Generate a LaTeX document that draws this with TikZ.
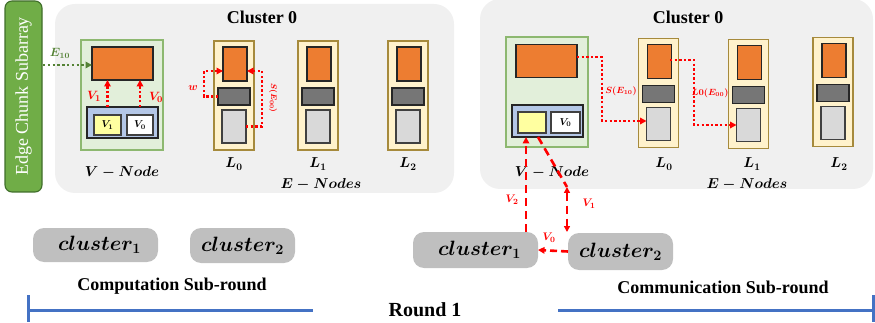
\documentclass[tikz,border=0pt]{standalone}
\usepackage{fontspec}
\setmainfont{Liberation Serif}
\usetikzlibrary{arrows.meta,calc}
\definecolor{panel}{HTML}{F0F0F0}
\definecolor{chunk}{HTML}{70AD47}
\definecolor{chunkb}{HTML}{3F6E2A}
\definecolor{vgreen}{HTML}{E2EFDA}
\definecolor{vgreenb}{HTML}{8DB870}
\definecolor{orng}{HTML}{ED7D31}
\definecolor{bluebox}{HTML}{B4C7E7}
\definecolor{yel}{HTML}{FFFFA0}
\definecolor{lfill}{HTML}{FFF2CC}
\definecolor{lborder}{HTML}{A68A3C}
\definecolor{dgray}{HTML}{767676}
\definecolor{lgray}{HTML}{D9D9D9}
\definecolor{pillc}{HTML}{BFBFBF}
\definecolor{barblue}{HTML}{4472C4}
\definecolor{agreen}{HTML}{548235}
\definecolor{rd}{HTML}{FF0000}
\newcommand\drawEnode[3]{%
  \node[lbox] (#1) at (#2,#3) {};
  \node[obox] (#1o) at ($(#1)+(1,-31.5)$) {};
  \node[dbox] (#1d) at ($(#1)+(0,1)$) {};
  \node[gbox] (#1g) at ($(#1)+(0,31)$) {};
}
\begin{document}
\begin{tikzpicture}[x=1pt,y=-1pt,
  bx/.style={inner sep=0pt, outer sep=0pt, line width=1.1pt},
  panelbox/.style={bx, fill=panel, draw=none, rounded corners=20pt},
  chunkbox/.style={bx, fill=chunk, draw=chunkb, rounded corners=7pt},
  vbox/.style={bx, fill=vgreen, draw=vgreenb, minimum width=82pt, minimum height=110pt},
  vorange/.style={bx, fill=orng, draw=black!85, minimum width=61pt, minimum height=33pt},
  vblue/.style={bx, fill=bluebox, draw=black!85, minimum width=71pt, minimum height=31pt},
  cell/.style={bx, draw=black!75, minimum width=27pt, minimum height=20pt, font=\fontsize{10}{11}\selectfont\boldmath},
  lbox/.style={bx, fill=lfill, draw=lborder, minimum width=40pt, minimum height=109pt},
  obox/.style={bx, fill=orng, draw=black!85, minimum width=24pt, minimum height=34pt},
  dbox/.style={bx, fill=dgray, draw=black!85, minimum width=32pt, minimum height=17pt},
  gbox/.style={bx, fill=lgray, draw=black!75, minimum width=24pt, minimum height=33pt},
  pill/.style={bx, fill=pillc, draw=none, rounded corners=11pt, font=\fontsize{21}{24}\selectfont\boldmath},
  ttl/.style={font=\fontsize{18}{20}\selectfont\bfseries},
  mlab/.style={font=\fontsize{14}{16}\selectfont\boldmath},
  rlab/.style={text=rd, font=\fontsize{11}{12}\selectfont\boldmath, inner sep=0pt},
  sublab/.style={font=\fontsize{18}{20}\selectfont\bfseries},
  tip/.style={-{Triangle[length=6.5pt,width=6.5pt]}},
  reddot/.style={draw=rd, line width=2.4pt, dash pattern=on 2.4pt off 2.2pt, tip},
  greendot/.style={draw=agreen, line width=2.4pt, dash pattern=on 2.4pt off 2.4pt, tip},
  reddash/.style={draw=rd, line width=2.6pt, dash pattern=on 8pt off 5pt},
  bar/.style={draw=barblue, line width=3pt}
]
\useasboundingbox (0,0) rectangle (875,323);

% ---------- left half ----------
\node[chunkbox, minimum width=37pt, minimum height=191pt] (chunk) at (23.5,96.5) {};
\node[rotate=90, text=white, font=\fontsize{18}{20}\selectfont] (chunklab) at (chunk.center) {Edge Chunk Subarray};
\node[panelbox, minimum width=399pt, minimum height=189pt] (panelL) at (254.5,98.5) {};
\node[ttl] (titleL) at (262,17) {Cluster 0};

\node[vbox] (vL) at (122,95) {};
\node[vorange] (oL) at (122.5,63.5) {};
\node[vblue] (bL) at (122.5,122.5) {};
\node[cell, fill=yel] (c1L) at (107.5,125) {$V_1$};
\node[cell, fill=white, minimum width=26pt] (c0L) at (140,125) {$V_0$};
\draw[reddot] (c1L.north |- bL.north) -- (c1L.north |- oL.south);
\draw[reddot] (c0L.north |- bL.north) -- (c0L.north |- oL.south);
\node[rlab, font=\fontsize{13}{14}\selectfont\boldmath] (lv1L) at (94,96) {$V_1$};
\node[rlab, font=\fontsize{13}{14}\selectfont\boldmath] (lv0L) at (156,97) {$V_0$};
\coordinate (e10s) at (43,65);
\draw[greendot] (e10s) -- (e10s -| oL.west);
\node[text=agreen, font=\fontsize{11.5}{12}\selectfont\boldmath] (le10) at (60,53) {$E_{10}$};
\node[mlab] (vlabL) at (122,172) {$V-Node$};

\drawEnode{a0}{234}{95.5}
\drawEnode{a1}{318}{95.5}
\drawEnode{a2}{408}{95.5}
\node[mlab] (la0) at (234,164) {$L_0$};
\node[mlab] (la1) at (318,164) {$L_1$};
\node[mlab] (la2) at (408,164) {$L_2$};
\node[mlab] (enL) at (321,184) {$E-Nodes$};
\draw[reddot] (a0d.west) -- ++(-14,0) |- ($(a0o.west)+(0,7)$);
\draw[reddot] (a0g.east) -- ++(16,0) |- ($(a0o.east)+(0,7)$);
\node[text=rd, font=\fontsize{11}{12}\selectfont\boldmath] (lw) at (193,88) {$w$};
\node[rotate=-90, text=rd, font=\fontsize{8.5}{9}\selectfont\boldmath] (lse) at (273,98) {$S(E_{00})$};

% ---------- right half ----------
\node[panelbox, minimum width=393pt, minimum height=190pt] (panelR) at (676.5,94) {};
\node[ttl] (titleR) at (688,17) {Cluster 0};
\node[vbox] (vR) at (547,92) {};
\node[vorange] (oR) at (546.5,61) {};
\node[vblue, minimum height=32pt] (bR) at (547.5,121) {};
\node[cell, fill=yel, minimum width=28pt, minimum height=21pt] (c1R) at (532,122.5) {};
\node[cell, fill=white, minimum width=29pt, minimum height=21pt] (c0R) at (565.5,122.5) {$V_0$};
\node[mlab] (vlabR) at (552,172) {$V-Node$};

\drawEnode{b0}{658.5}{93}
\drawEnode{b1}{748.5}{94}
\drawEnode{b2}{833}{92}
\node[mlab] (lb0) at (664,164) {$L_0$};
\node[mlab] (lb1) at (752,164) {$L_1$};
\node[mlab] (lb2) at (839,164) {$L_2$};
\node[mlab] (enR) at (747,184) {$E-Nodes$};

\draw[reddot] ($(oR.east)+(0,-4)$) -- ++(25,0) |- ($(b0g.west)+(0,-3)$);
\node[rlab, font=\fontsize{9}{10}\selectfont\boldmath] (lse10) at (621,91) {$S(E_{10})$};
\coordinate (l0s) at ($(b0o.center)+(10.5,-1.5)$);
\draw[reddot] (l0s) -- ++(24,0) |- (b1g.west);
\node[rlab, font=\fontsize{9}{10}\selectfont\boldmath] (ll0) at (710,93) {$L0(E_{00})$};

% ---------- bottom ----------
\node[pill, minimum width=125pt, minimum height=34pt] (p1L) at (95.5,245) {\hspace{8pt}$cluster_1$};
\node[pill, minimum width=105pt, minimum height=35pt] (p2L) at (242.5,245.5) {$cluster_2$};
\node[sublab] (compl) at (172,286) {Computation Sub-round};

\node[pill, minimum width=125pt, minimum height=36pt] (p1R) at (475.5,250) {\hspace{8pt}$cluster_1$};
\node[pill, minimum width=105pt, minimum height=37pt] (p2R) at (620.5,251.5) {$cluster_2$};
\node[sublab] (comml) at (723,287) {Communication Sub-round};
\node[font=\fontsize{20}{24}\selectfont\bfseries] (round) at (425,310) {Round 1};

% red dashed arrows
\coordinate (v2s) at ($(p1R.north east)+(-12,0)$);
\draw[reddash, tip] (v2s) -- (v2s |- bR.south);
\node[rlab] (lv2) at (512,200) {$V_2$};
\coordinate (v1s) at ($(bR.south)+(-9.5,0)$);
\coordinate (v1m) at (567,187);
\coordinate (v1e) at ($(p2R.north west)+(3,-1)$);
\draw[reddash] (v1s) -- (v1m);
\draw[reddash, {Triangle[length=6pt,width=6pt]}-{Triangle[length=6pt,width=6pt]}] (v1m) -- (v1m |- v1e);
\node[rlab] (lv1) at (589,204) {$V_1$};
\draw[reddash, dash pattern=on 7pt off 4pt, tip] (p2R.west) -- (p1R.east);
\node[rlab] (lv0) at (549,238) {$V_0$};

% round bars
\coordinate (bl1) at (28,295);
\coordinate (bl2) at (28,322);
\coordinate (bl3) at (313,310);
\coordinate (br1) at (873,295);
\coordinate (br2) at (873,322);
\coordinate (br3) at (558,310);
\draw[bar] (bl1) -- (bl2);
\draw[bar] (bl1 |- bl3) -- (bl3);
\draw[bar] (br1) -- (br2);
\draw[bar] (br3) -- (br1 |- br3);
\end{tikzpicture}
\end{document}
